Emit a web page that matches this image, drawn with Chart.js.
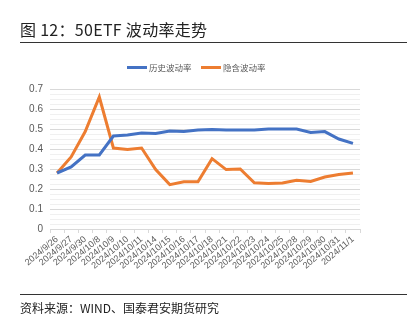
<!DOCTYPE html>
<html>
<head>
<meta charset="utf-8">
<script src="https://cdn.jsdelivr.net/npm/chart.js@4/dist/chart.umd.min.js"></script>
<style>
  html, body { margin: 0; padding: 0; background: #fff; }
  #wrap { position: relative; width: 415px; height: 325px; overflow: hidden; font-family: "Noto Sans CJK SC", sans-serif; }
  #chart { position: absolute; left: 0; top: 0; }
  .title { position: absolute; left: 20px; top: 17px; font-size: 16px; color: #222; letter-spacing: 0.3px; }
  .rule { position: absolute; left: 20px; width: 387px; height: 1px; background: #333; }
  .source { position: absolute; left: 20px; top: 299px; font-size: 12px; color: #222; }
  .legend { position: absolute; top: 60px; font-size: 8.5px; color: #595959; line-height: 14px; }
  .legend i { display: inline-block; width: 20px; height: 3px; vertical-align: middle; margin-right: 2px; position: relative; top: -1px; }
</style>
</head>
<body>
<div id="wrap">
  <canvas id="chart" width="415" height="325"></canvas>
  <div class="title">图 12：50ETF 波动率走势</div>
  <div class="rule" style="top:42px"></div>
  <div class="legend" style="left:127px"><i style="background:#4472C4"></i>历史波动率</div>
  <div class="legend" style="left:201px"><i style="background:#ED7D31"></i>隐含波动率</div>
  <div class="rule" style="top:294px"></div>
  <div class="source">资料来源：WIND、国泰君安期货研究</div>
</div>
<script>
const dates = [
  "2024/9/26", "2024/9/27", "2024/9/30", "2024/10/8", "2024/10/9", "2024/10/10",
  "2024/10/11", "2024/10/14", "2024/10/15", "2024/10/16", "2024/10/17", "2024/10/18",
  "2024/10/21", "2024/10/22", "2024/10/23", "2024/10/24", "2024/10/25", "2024/10/28",
  "2024/10/29", "2024/10/30", "2024/10/31", "2024/11/1",
];
const histVol = [
  0.28, 0.31, 0.37, 0.37, 0.465, 0.47, 0.48, 0.477, 0.49, 0.487, 0.495,
  0.498, 0.495, 0.495, 0.495, 0.5, 0.5, 0.5, 0.483, 0.487, 0.45, 0.428,
];
const implVol = [
  0.28, 0.36, 0.487, 0.66, 0.405, 0.397, 0.405, 0.297, 0.222, 0.236, 0.236,
  0.352, 0.297, 0.3, 0.231, 0.228, 0.23, 0.244, 0.238, 0.26, 0.272, 0.28,
];
const seriesNames = ["历史波动率", "隐含波动率"];

const blue = "#4472C4";
const orange = "#ED7D31";
const textColor = "#595959";

function isMajor(v) {
  return Math.round(v * 1000) % 100 === 0;
}

new Chart(document.getElementById("chart"), {
  type: "line",
  data: {
    labels: dates,
    datasets: [
      { label: seriesNames[0], data: histVol, borderColor: blue, backgroundColor: blue, borderWidth: 3, pointRadius: 0, tension: 0 },
      { label: seriesNames[1], data: implVol, borderColor: orange, backgroundColor: orange, borderWidth: 3, pointRadius: 0, tension: 0 },
    ],
  },
  options: {
    responsive: false,
    animation: false,
    layout: { padding: { left: 0, right: 55, top: 89, bottom: 35 } },
    plugins: { legend: { display: false }, tooltip: { enabled: false } },
    scales: {
      x: {
        offset: true,
        grid: { offset: true, drawOnChartArea: false, drawTicks: true, tickLength: 4, color: "#d9d9d9" },
        border: { color: "#d9d9d9" },
        ticks: {
          color: textColor,
          font: { family: "Liberation Sans", size: 9 },
          autoSkip: false,
          minRotation: 40,
          maxRotation: 40,
          padding: 1,
        },
        afterFit: (scale) => { scale.height = 61; },
      },
      y: {
        min: 0,
        max: 0.7,
        border: { display: false },
        grid: {
          drawTicks: false,
          color: (ctx) => (ctx.tick && isMajor(ctx.tick.value) ? "#d9d9d9" : "#f0f0f0"),
        },
        ticks: {
          stepSize: 0.025,
          autoSkip: false,
          color: textColor,
          padding: 7,
          font: { family: "Liberation Sans", size: 10 },
          callback: (v) => (isMajor(v) ? String(Math.round(v * 10) / 10) : ""),
        },
        afterFit: (scale) => { scale.width = 50; },
      },
    },
  },
});
</script>
</body>
</html>
